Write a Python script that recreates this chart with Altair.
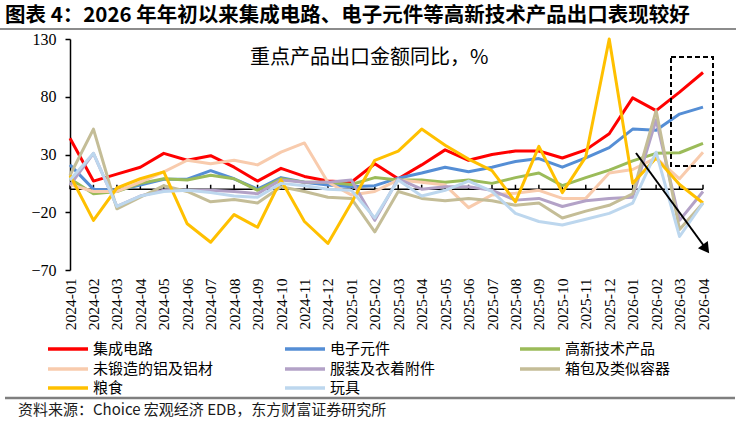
import altair as alt
import pandas as pd

# Monthly categories
months = [
    "2024-01", "2024-02", "2024-03", "2024-04", "2024-05", "2024-06", "2024-07",
    "2024-08", "2024-09", "2024-10", "2024-11", "2024-12", "2025-01", "2025-02",
    "2025-03", "2025-04", "2025-05", "2025-06", "2025-07", "2025-08", "2025-09",
    "2025-10", "2025-11", "2025-12", "2026-01", "2026-02", "2026-03", "2026-04",
]

# Export value YoY (%) by product
ic = [44, 7, 13, 19, 31, 25, 29, 19, 7, 18, 11, 7, 6, 22, 9, 21, 34, 25, 30, 33, 33, 27, 34, 48, 79, 68, 84, 101]
electronic = [21, 0, -1, 3.5, 8.6, 8.6, 16, 9, 0, 10, 6, 3.5, 2, 3, 9.5, 14, 19, 15, 19, 24, 26.5, 19, 27, 36, 52, 51, 65, 71]
hitech = [9, -4, -2, 5, 9, 8, 12, 9, -1, 9, 6, 6, 4, 10, 8, 8, 6, 8, 5, 10, 14, 3, 10, 16.5, 24.5, 31, 31.5, 39.6]
aluminium = [4, -2, -2, 6, 15, 25, 22, 25, 21, 32, 40, 6, -5, -2, 8, 6, 3.5, -16, -5, -3.5, -1, -8, -8, 14, 17, 27, 9, 32]
apparel = [3.5, 31, -15, -6, -1, -1, -1, -2, -4, 8, 6, 6, 8, -27, 9, 0, 2, 2, -1, -9.5, -8, -15, -10, -8, -7, 60, -27, -2]
bags = [12, 52, -17, -7, 3, -2, -11, -9, -12, 2, -2, -7, -8, -37, -2, -8, -10, -8, -10, -14, -12, -25, -19, -14, -4, 68, -35, -12]
grain = [12, -27, 1, 9, 15, -30, -46, -22, -33, 8, -28, -47, -12, 25, 33, 52, 38, 26, 16, -11, 37, -3, 28, 130, 5, 27, 4, -12]
toys = [8, 31, -15, -6, -2, -1, -3, -6, -7, 5, 3, 0, -1, -25, 8, -6, -1, 7, -2, -21, -28, -31, -26, -21, -12, 32, -41, -12]

series_names = ["集成电路", "电子元件", "高新技术产品", "未锻造的铝及铝材",
                "服装及衣着附件", "箱包及类似容器", "粮食", "玩具"]
series_values = [ic, electronic, hitech, aluminium, apparel, bags, grain, toys]
series_colors = ["#FF0000", "#558ED5", "#9BBB59", "#F8CBAD",
                 "#B3A2C7", "#C4BD97", "#FFC000", "#BDD7EE"]

y_ticks = [-70, -20, 30, 80, 130]

title_text = "图表 4：2026 年年初以来集成电路、电子元件等高新技术产品出口表现较好"
subtitle_text = "重点产品出口金额同比，%"
source_text = "资料来源：Choice 宏观经济 EDB，东方财富证券研究所"

rows = []
for name, vals in zip(series_names, series_values):
    for m, v in zip(months, vals):
        rows.append({"month": m, "series": name, "value": v})
df = pd.DataFrame(rows)

CJK = "Noto Sans CJK SC"
SERIF = "Liberation Serif"

x_scale = alt.Scale(type="point", padding=0, domain=months)
x_axis = alt.Axis(title=None, domain=False, ticks=False, tickSize=0,
                  labelAngle=270, labelAlign="right", labelBaseline="middle",
                  labelFont=SERIF, labelFontSize=15.5, labelColor="black",
                  labelPadding=8, labelOverlap=False)
y_scale = alt.Scale(domain=[-70, 130], nice=False, zero=False)
y_axis = alt.Axis(title=None, values=y_ticks, grid=False,
                  domainColor="black", domainWidth=1.5,
                  tickColor="black", tickSize=5, tickWidth=1.5,
                  labelFont=SERIF, labelFontSize=16, labelColor="black",
                  labelPadding=9)


def xenc(field):
    return alt.X(field, scale=x_scale, axis=x_axis)


def yenc(field):
    return alt.Y(field, scale=y_scale, axis=y_axis)


# Category axis drawn along zero, with small upward ticks at each month
axis_df = pd.DataFrame({"month": [months[0]], "end": [months[-1]], "zero": [0]})
zero_line = alt.Chart(axis_df).mark_rule(color="black", strokeWidth=1.5).encode(
    x=xenc("month:O"), x2="end:O", y=yenc("zero:Q"),
)

tick_df = pd.DataFrame({"month": months, "lo": 0.0, "hi": 3.8})
zero_ticks = alt.Chart(tick_df).mark_rule(color="black", strokeWidth=1.5).encode(
    x=xenc("month:O"), y=yenc("lo:Q"), y2="hi:Q",
)

layers = [zero_line, zero_ticks]

for name, color in zip(series_names, series_colors):
    layers.append(
        alt.Chart(df).transform_filter(alt.datum.series == name)
        .mark_line(color=color, strokeWidth=3, strokeJoin="round")
        .encode(x=xenc("month:O"), y=yenc("value:Q"))
    )

# Legend: three columns, row-major
col_x = [-22, 215, 450]
row_y = [310, 330, 349]
for i, (name, color) in enumerate(zip(series_names, series_colors)):
    cx = col_x[i % 3]
    ry = row_y[i // 3]
    one = pd.DataFrame({"label": [name]})
    layers.append(
        alt.Chart(one).mark_rule(color=color, strokeWidth=3.5).encode(
            x=alt.value(cx), x2=alt.value(cx + 40), y=alt.value(ry))
    )
    layers.append(
        alt.Chart(one).mark_text(align="left", baseline="middle", font=CJK,
                                 fontSize=15, color="black").encode(
            x=alt.value(cx + 45), y=alt.value(ry), text="label:N")
    )

# Header, rules, inner caption and source note
layers.append(
    alt.Chart(pd.DataFrame({"t": [title_text]})).mark_text(
        align="left", baseline="middle", font=CJK, fontSize=20.5, fontWeight="bold",
        color="black").encode(x=alt.value(-65), y=alt.value(-23), text="t:N")
)
layers.append(
    alt.Chart(pd.DataFrame({"t": [""]})).mark_rule(color="#8c8c8c", strokeWidth=2).encode(
        x=alt.value(-70), x2=alt.value(666), y=alt.value(-10))
)
layers.append(
    alt.Chart(pd.DataFrame({"t": [subtitle_text]})).mark_text(
        align="left", baseline="middle", font=CJK, fontSize=20, color="black").encode(
        x=alt.value(180), y=alt.value(19), text="t:N")
)
layers.append(
    alt.Chart(pd.DataFrame({"t": [""]})).mark_rule(color="#7f7f7f", strokeWidth=2.5).encode(
        x=alt.value(-65), x2=alt.value(665), y=alt.value(359))
)
layers.append(
    alt.Chart(pd.DataFrame({"t": [source_text]})).mark_text(
        align="left", baseline="middle", font=CJK, fontSize=15, color="#1a1a1a").encode(
        x=alt.value(-52), y=alt.value(371), text="t:N")
)

# Highlight box and trend arrow
layers.append(
    alt.Chart(pd.DataFrame({"t": [""]})).mark_rect(
        filled=False, stroke="black", strokeWidth=2, strokeDash=[5, 3]).encode(
        x=alt.value(601), x2=alt.value(643), y=alt.value(18), y2=alt.value(127))
)
layers.append(
    alt.Chart(pd.DataFrame({"t": [""]})).mark_rule(color="black", strokeWidth=2).encode(
        x=alt.value(566), x2=alt.value(634), y=alt.value(114), y2=alt.value(207))
)
layers.append(
    alt.Chart(pd.DataFrame({"t": [""]})).mark_point(
        shape="triangle-up", filled=True, color="black", opacity=1,
        size=150, angle=143.7).encode(x=alt.value(636), y=alt.value(210))
)

chart = alt.layer(*layers).properties(
    width=633, height=231,
    autosize=alt.AutoSizeParams(type="none"),
    padding={"left": 70, "top": 39, "right": 34, "bottom": 152},
    background="white",
).configure_view(stroke=None)

chart.save("out.html", embed_options={"renderer": "svg", "actions": False})
